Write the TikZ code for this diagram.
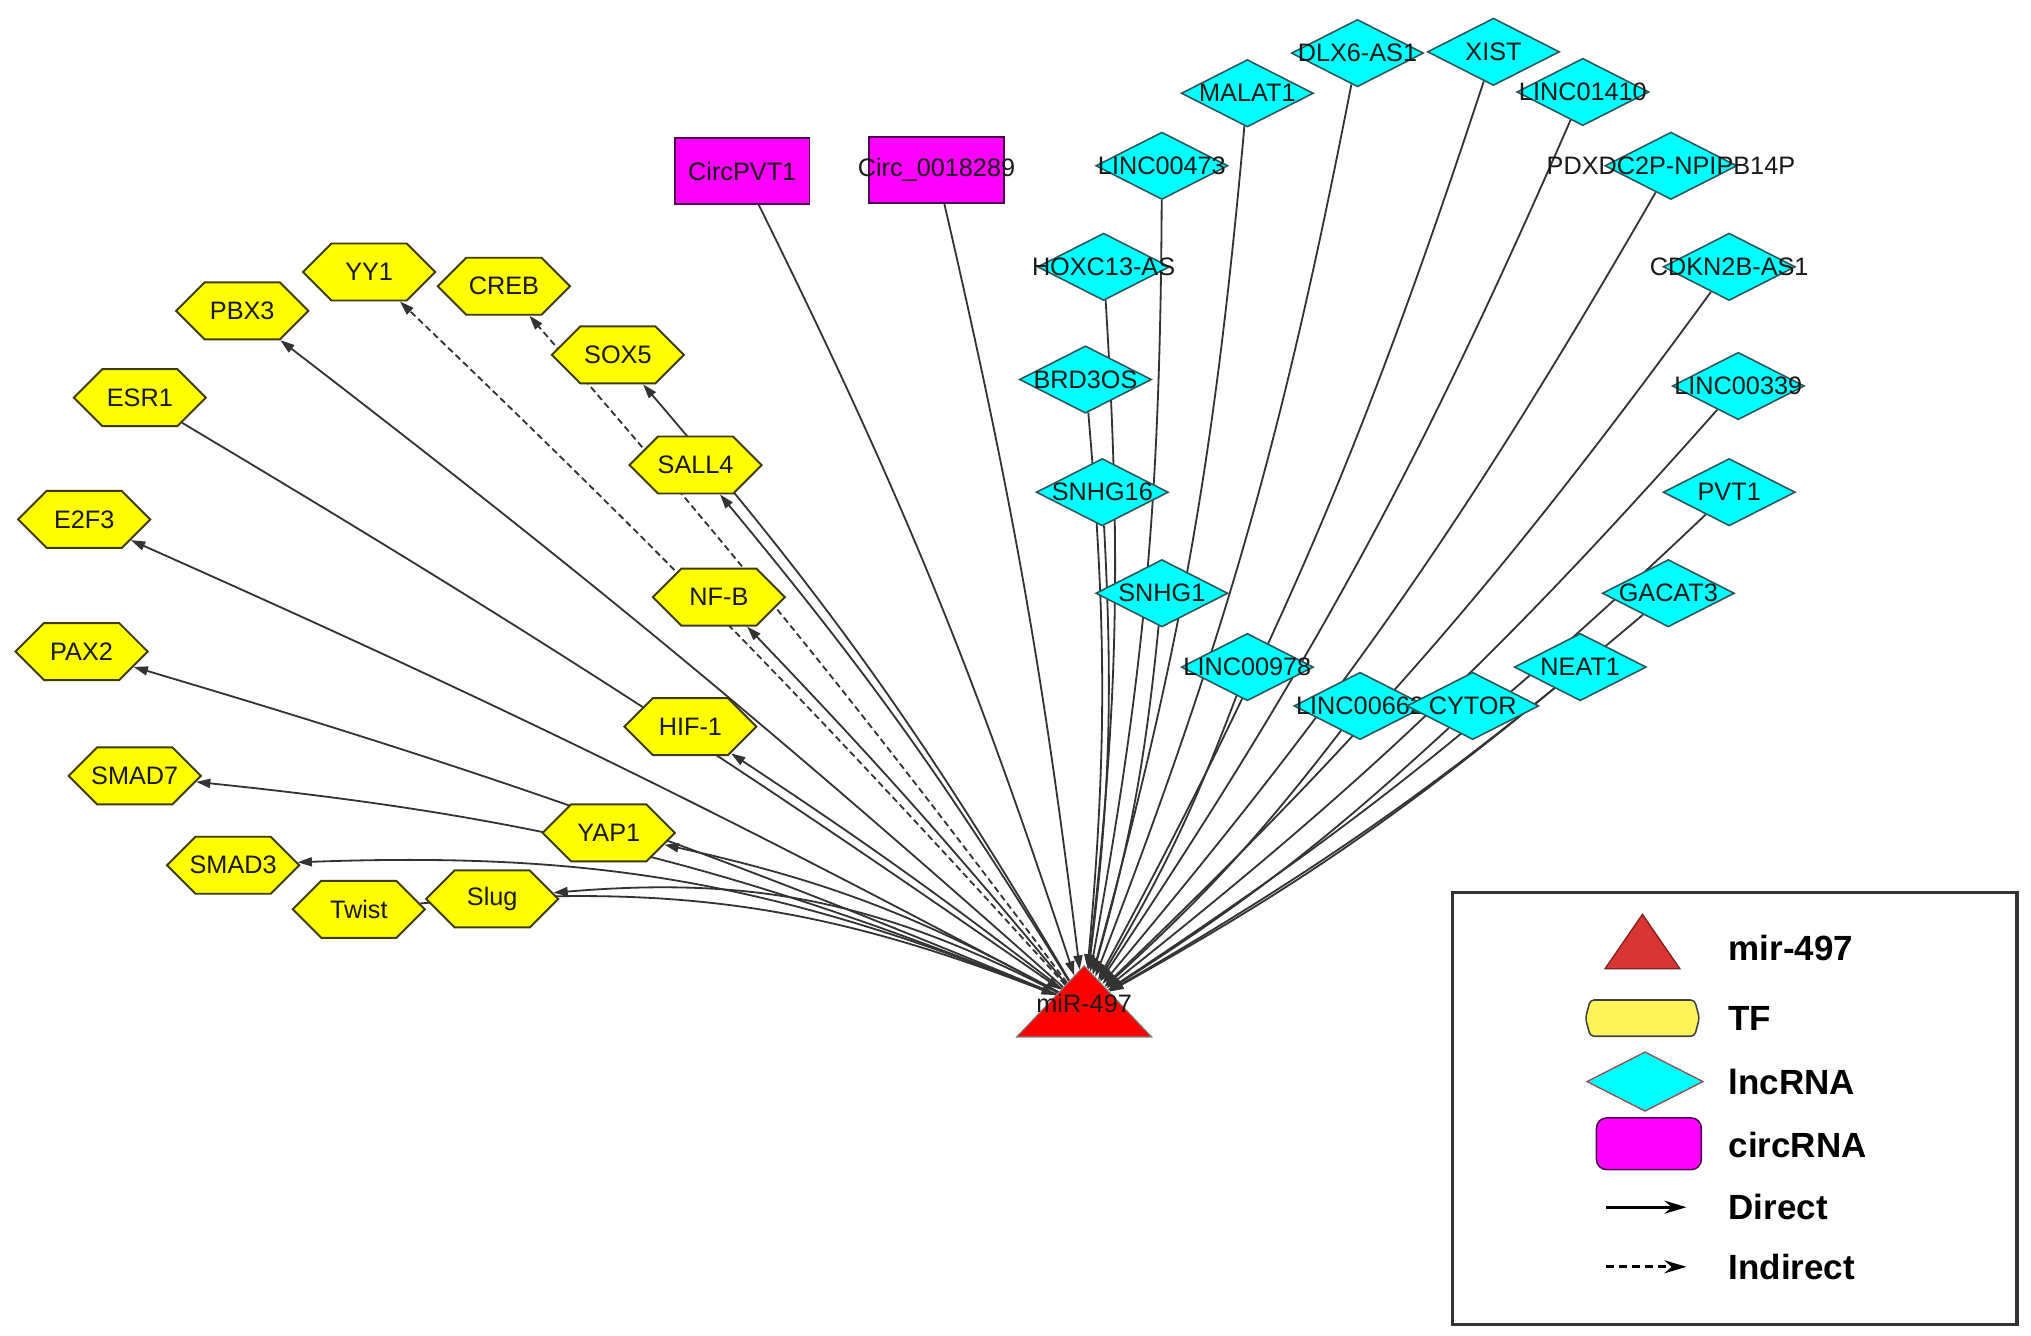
\documentclass[tikz,border=0pt]{standalone}
\usepackage{fontspec}
\setmainfont{Liberation Sans}
\usetikzlibrary{shapes.geometric,shapes.symbols,arrows.meta}
\pgfdeclarelayer{bottom}
\pgfdeclarelayer{background}
\pgfsetlayers{bottom,background,main}
\definecolor{tfyel}{HTML}{FFFF00}
\definecolor{tfedge}{HTML}{3C3C00}
\definecolor{lncfill}{HTML}{00FFFF}
\definecolor{lncedge}{HTML}{2E5656}
\definecolor{circfill}{HTML}{FF00FF}
\definecolor{circedge}{HTML}{4A004A}
\definecolor{mirred}{HTML}{FF0000}
\definecolor{linkcol}{HTML}{333333}
\definecolor{legred}{HTML}{D93535}
\definecolor{legyel}{HTML}{FFF55A}
\definecolor{legbox}{HTML}{333333}
\newcommand{\nlab}[1]{\makebox[0pt]{#1}}
\begin{document}
\begin{tikzpicture}[x=1pt,y=-1pt,
  every node/.style={font=\fontsize{19.5}{22}\selectfont, text=black!90},
  tfnode/.style={signal, signal to=east and west, signal pointer angle=90,
    minimum width=102pt, minimum height=44pt, inner sep=0pt,
    fill=tfyel, draw=tfedge, line width=1.5pt},
  lncnode/.style={diamond, aspect=2, minimum width=102pt, minimum height=52pt,
    inner sep=0pt, fill=lncfill, draw=lncedge, line width=1.2pt},
  circnode/.style={rectangle, minimum width=104pt, minimum height=51pt,
    inner sep=0pt, fill=circfill, draw=circedge, line width=1.4pt},
  mirnode/.style={isosceles triangle, isosceles triangle apex angle=87,
    shape border rotate=90, minimum width=55pt, minimum height=55pt,
    inner sep=0pt, fill=mirred, draw=black!50, line width=0.8pt},
  link/.style={draw=linkcol, line width=1.4pt, -{Triangle[length=11pt,width=7pt]}},
  indirect/.style={link, dash pattern=on 5pt off 3pt},
  legtext/.style={anchor=west, font=\fontsize{27}{32}\selectfont\bfseries, text=black},
  legarrow/.style={draw=black, line width=2.2pt, -{Stealth[length=17pt,width=10pt]}},
]
\begin{pgfonlayer}{bottom}
\fill[white] (0,0) rectangle (1568,1031);
\end{pgfonlayer}
\useasboundingbox (0,0) rectangle (1568,1031);

% ---------- miRNA ----------
\node[mirnode, anchor=apex] (mir) at (837,745) {\nlab{\raisebox{4pt}{miR-497}}};

% ---------- TF ----------
\node[tfnode] (yy1)   at (285,210) {\nlab{YY1}};
\node[tfnode] (creb)  at (389,221) {\nlab{CREB}};
\node[tfnode] (pbx3)  at (187,240) {\nlab{PBX3}};
\node[tfnode] (sox5)  at (477,274) {\nlab{SOX5}};
\node[tfnode] (esr1)  at (108,307) {\nlab{ESR1}};
\node[tfnode] (sall4) at (537,359) {\nlab{SALL4}};
\node[tfnode] (e2f3)  at (65,401)  {\nlab{E2F3}};
\node[tfnode] (nfb)   at (555,461) {\nlab{NF-B}};
\node[tfnode] (pax2)  at (63,503)  {\nlab{PAX2}};
\node[tfnode] (hif)   at (533,561) {\nlab{HIF-1}};
\node[tfnode] (smad7) at (104,599) {\nlab{SMAD7}};
\node[tfnode] (yap1)  at (470,643) {\nlab{YAP1}};
\node[tfnode] (smad3) at (180,668) {\nlab{SMAD3}};
\node[tfnode] (twist) at (277,702) {\nlab{Twist}};
\node[tfnode] (slug)  at (380,694) {\nlab{Slug}};

% ---------- circRNA ----------
\node[circnode] (cpvt1) at (573,132) {\nlab{CircPVT1}};
\node[circnode] (c0018) at (723,131) {\nlab{Circ\_0018289}};

% ---------- lncRNA ----------
\node[lncnode] (malat1) at (963,72)   {\nlab{MALAT1}};
\node[lncnode] (dlx6)   at (1048,41)  {\nlab{DLX6-AS1}};
\node[lncnode] (xist)   at (1153,40)  {\nlab{XIST}};
\node[lncnode] (l01410) at (1222,71)  {\nlab{LINC01410}};
\node[lncnode] (l00473) at (897,128)  {\nlab{LINC00473}};
\node[lncnode] (pdx)    at (1290,128) {\nlab{PDXDC2P-NPIPB14P}};
\node[lncnode] (hoxc)   at (852,206)  {\nlab{HOXC13-AS}};
\node[lncnode] (cdkn)   at (1335,206) {\nlab{CDKN2B-AS1}};
\node[lncnode] (brd3)   at (838,293)  {\nlab{BRD3OS}};
\node[lncnode] (l00339) at (1342,298) {\nlab{LINC00339}};
\node[lncnode] (snhg16) at (851,380)  {\nlab{SNHG16}};
\node[lncnode] (pvt1)   at (1335,380) {\nlab{PVT1}};
\node[lncnode] (snhg1)  at (897,458)  {\nlab{SNHG1}};
\node[lncnode] (gacat3) at (1288,458) {\nlab{GACAT3}};
\node[lncnode] (l00978) at (963,515)  {\nlab{LINC00978}};
\node[lncnode] (neat1)  at (1220,515) {\nlab{NEAT1}};
\node[lncnode] (l00662) at (1050,545) {\nlab{LINC00662}};
\node[lncnode] (cytor)  at (1137,545) {\nlab{CYTOR}};

% ---------- edges ----------
\begin{pgfonlayer}{background}
\draw[link] (mir) to[bend right=2] (pbx3);
\draw[indirect] (mir) to[bend right=2] (yy1);
\draw[indirect] (mir) to[bend right=2] (creb);
\draw[link] (mir) to[bend right=5] (sox5);
\draw[link] (mir) to[bend right=4] (sall4);
\draw[link] (mir) to[bend right=2] (nfb);
\draw[link] (mir) to[bend right=2] (hif);
\draw[link] (mir) to[bend right=2] (e2f3);
\draw[link] (mir) to[bend right=3] (pax2);
\draw[link] (mir) to[bend right=8] (smad7);
\draw[link] (mir) to[bend right=12] (smad3);
\draw[link] (mir) to[bend right=16] (slug);
\draw[link] (mir) to[bend right=8] (yap1);
\draw[link] (esr1) to[bend left=2] (mir);
\draw[link] (twist) to[bend left=13] (mir);
\draw[link] (cpvt1) to[bend left=4] (mir);
\draw[link] (c0018) to[bend left=3] (mir);
\foreach \n in {malat1,dlx6,xist,l01410,l00473,pdx,hoxc,cdkn,brd3,l00339,snhg16,pvt1,snhg1,gacat3,l00978,neat1,l00662,cytor}
  \draw[link] (\n) to[bend left=5] (mir);
\end{pgfonlayer}

% ---------- legend ----------
\node[draw=legbox, line width=2.5pt, minimum width=436pt, minimum height=333pt,
  anchor=north west, inner sep=0pt] (legend) at (1120,688) {};
\node[isosceles triangle, isosceles triangle apex angle=69, shape border rotate=90,
  minimum width=42pt, minimum height=42pt, inner sep=0pt, fill=legred,
  draw=legred!60!black, line width=1pt, anchor=apex] (ltri) at (1268,705) {};
\node[signal, signal to=east and west, signal pointer angle=150, rounded corners=3pt,
  minimum width=88pt, minimum height=28pt, inner sep=0pt, fill=legyel,
  draw=black!75, line width=1.2pt] (ltf) at (1268,786) {};
\node[diamond, aspect=2, minimum width=90pt, minimum height=46pt, inner sep=0pt,
  fill=lncfill, draw=black!60!red!70, line width=1pt] (llnc) at (1270,835) {};
\node[rectangle, rounded corners=8pt, minimum width=81pt, minimum height=40pt,
  inner sep=0pt, fill=circfill, draw=circedge, line width=1.2pt] (lcirc) at (1273,883) {};
\coordinate (d1) at (1240,932); \coordinate (d2) at (1302,932);
\draw[legarrow] (d1) -- (d2);
\coordinate (i1) at (1240,978); \coordinate (i2) at (1302,978);
\draw[legarrow, dash pattern=on 6pt off 4pt] (i1) -- (i2);
\node[legtext] (t1) at (1331,732) {mir-497};
\node[legtext] (t2) at (1331,786) {TF};
\node[legtext] (t3) at (1331,835) {lncRNA};
\node[legtext] (t4) at (1331,884) {circRNA};
\node[legtext] (t5) at (1331,932) {Direct};
\node[legtext] (t6) at (1331,978) {Indirect};
\end{tikzpicture}
\end{document}
